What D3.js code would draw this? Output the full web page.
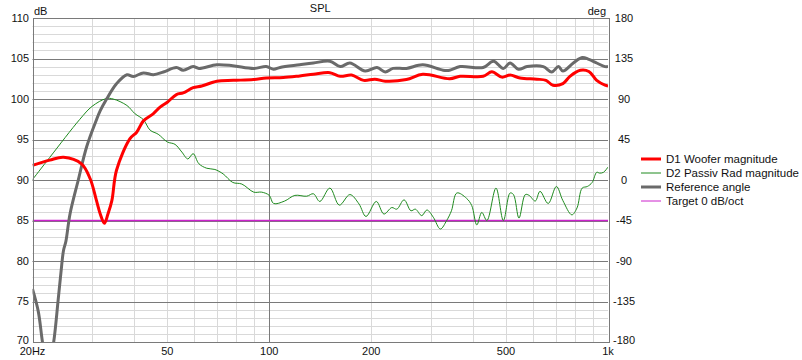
<!DOCTYPE html>
<html>
<head>
<meta charset="utf-8">
<script src="https://cdn.jsdelivr.net/npm/d3@7"></script>
<style>
  body { margin: 0; background: #fff; }
  svg { display: block; font-family: "Liberation Sans", Arial, sans-serif; font-size: 11px; }
</style>
</head>
<body>
<div id="chart"></div>
<script>
// frequency ticks
const freqTicks = [20, 50, 100, 200, 500, 1000];
const freqLabels = ["20Hz", "50", "100", "200", "500", "1k"];
const dbTicks = [70, 75, 80, 85, 90, 95, 100, 105, 110];
const degTicks = [-180, -135, -90, -45, 0, 45, 90, 135, 180];

// D1 Woofer magnitude (Hz, dB)
const wooferFreq = [20, 22.5, 24.7, 27.9, 29.6, 30.9, 31.7, 32.6, 33.4, 34.3, 35.4, 38.8, 40.6, 42.5, 45.5, 47.6, 50, 53.2, 55.7, 59.6, 63.2, 70, 78.3, 89.8, 98, 110, 123, 135, 151, 162, 175, 190, 205, 220, 254, 284, 341, 366, 428, 454, 486, 514, 550, 616, 656, 688, 736, 772, 829, 878, 926, 980, 1000];
const wooferDb = [91.8, 92.45, 92.8, 92.0, 90.15, 87.45, 85.8, 84.65, 85.8, 87.45, 91.2, 95.1, 95.9, 97.3, 98.2, 99.0, 99.6, 100.55, 100.75, 101.4, 101.6, 102.2, 102.3, 102.4, 102.6, 102.65, 102.85, 103.05, 103.25, 102.8, 102.95, 102.3, 102.45, 102.2, 102.4, 103.05, 102.5, 102.8, 102.8, 103.35, 102.7, 102.95, 102.6, 102.45, 102.3, 101.7, 101.9, 102.8, 103.55, 103.4, 102.3, 101.7, 101.6];

// D2 Passiv Rad magnitude (Hz, dB)
const passiveFreq = [20, 22.5, 27.6, 30, 33, 34.6, 38, 40.1, 42.5, 44.5, 47, 50, 52.7, 55.2, 57.5, 59.6, 62, 65.4, 69.1, 73.1, 78, 83, 90, 95, 100, 103, 111, 119, 129, 135, 141, 151, 161, 173, 184, 193, 207, 218, 230, 238, 250, 262, 270, 282, 292, 305, 320, 334, 345, 358, 382, 396, 410, 424, 439, 467, 491, 514, 526, 546, 570, 585, 610, 630, 666, 704, 736, 782, 810, 839, 869, 898, 926, 945, 970, 1000];
const passiveDb = [90.05, 92.8, 97.5, 99.1, 100.05, 100.0, 99.2, 98.2, 97.45, 96.15, 95.65, 94.7, 94.4, 93.45, 92.6, 93.25, 92.0, 91.45, 91.3, 90.75, 89.7, 89.5, 88.5, 88.5, 88.1, 87.1, 87.4, 88.1, 88.0, 88.3, 87.35, 89.0, 86.9, 88.2, 87.05, 85.5, 87.35, 85.8, 86.6, 86.4, 87.55, 86.2, 86.4, 85.6, 86.3, 85.4, 83.95, 85.0, 86.2, 88.4, 87.75, 86.85, 84.45, 86.0, 85.0, 89.0, 85.0, 88.4, 88.2, 85.3, 88.2, 88.1, 87.4, 88.6, 87.1, 89.2, 87.45, 85.7, 86.55, 89.0, 89.2, 89.7, 90.95, 90.85, 90.95, 91.6];

// Reference angle (Hz, deg)
const refFreq = [20, 20.8, 21.4, 22.2, 23.1, 23.8, 24.4, 24.7, 25.1, 25.8, 27.3, 28.9, 30.9, 31.7, 33.1, 35.4, 38, 39.7, 42.5, 45.5, 48.7, 53.2, 55.7, 59.6, 62, 70, 78, 90, 98, 103, 107.6, 123, 135, 151, 162, 173, 192, 208, 220, 232, 254, 284, 326, 341, 366, 428, 459, 491, 514, 544, 577, 644, 682, 714, 736, 790, 839, 878, 926, 980, 1000];
const refDeg = [-121, -146, -180, -216, -180, -134, -94, -78, -68, -38, 0, 37, 67, 77, 90, 107, 117, 115, 119, 117, 120, 125, 122, 126, 124, 128, 127, 124, 126, 123, 125, 128, 130, 132, 126, 130, 121, 125, 120, 124, 124, 128, 122, 122, 126, 125, 132, 124, 130, 123, 126, 126, 120, 126, 121, 130, 136, 134, 130, 126, 126];

// Target 0 dB/oct
const targetFreq = [20, 1000];
const targetDb = [85, 85];

const legendItems = ["D1 Woofer magnitude", "D2 Passiv Rad magnitude", "Reference angle", "Target 0 dB/oct"];
const legendColors = ["#ff0000", "#1f8a1f", "#6a6a6a", "#cc22cc"];
const legendWidths = [3, 1, 3, 1];

const W = 802, H = 360;
const plotLeft = 32.5, plotRight = 608, plotTop = 18, plotBottom = 342;

const svg = d3.select("#chart").append("svg")
    .attr("width", W)
    .attr("height", H);

const x = d3.scaleLog().domain([20, 1000]).range([plotLeft, plotRight]);
const yDb = d3.scaleLinear().domain([70, 110]).range([plotBottom, plotTop]);
const yDeg = d3.scaleLinear().domain([-180, 180]).range([plotBottom, plotTop]);

const px = v => Math.round(v) + 0.5;

// minor grid
const minorF = d3.range(30, 100, 10).concat(d3.range(200, 1000, 100));
svg.append("g").selectAll("line")
    .data(minorF)
    .enter().append("line")
    .attr("x1", d => px(x(d))).attr("x2", d => px(x(d)))
    .attr("y1", plotTop).attr("y2", plotBottom)
    .attr("stroke", "#d9d9d9");

const minorDb = d3.range(71, 110).filter(d => d % 5 !== 0);
svg.append("g").selectAll("line")
    .data(minorDb)
    .enter().append("line")
    .attr("x1", plotLeft).attr("x2", plotRight)
    .attr("y1", d => px(yDb(d))).attr("y2", d => px(yDb(d)))
    .attr("stroke", "#d9d9d9");

// major grid
svg.append("g").selectAll("line")
    .data(dbTicks.slice(1, -1))
    .enter().append("line")
    .attr("x1", plotLeft).attr("x2", plotRight)
    .attr("y1", d => px(yDb(d))).attr("y2", d => px(yDb(d)))
    .attr("stroke", "#7a7a7a");

svg.append("line")
    .attr("x1", px(x(100))).attr("x2", px(x(100)))
    .attr("y1", plotTop).attr("y2", plotBottom)
    .attr("stroke", "#7a7a7a");

// curves
svg.append("clipPath").attr("id", "plotClip")
    .append("rect")
    .attr("x", plotLeft).attr("y", plotTop)
    .attr("width", plotRight - plotLeft).attr("height", plotBottom - plotTop);

const plot = svg.append("g").attr("clip-path", "url(#plotClip)");

function drawCurve(freqs, vals, yScale, color, width) {
    const pts = freqs.map((f, i) => [x(f), yScale(vals[i])]);
    plot.append("path")
        .attr("d", d3.line().curve(d3.curveCatmullRom.alpha(0.5))(pts))
        .attr("fill", "none")
        .attr("stroke", color)
        .attr("stroke-width", width)
        .attr("stroke-linejoin", "round");
}

drawCurve(targetFreq, targetDb, yDb, legendColors[3], 1.5);
drawCurve(passiveFreq, passiveDb, yDb, legendColors[1], 1);
drawCurve(refFreq, refDeg, yDeg, legendColors[2], 3);
drawCurve(wooferFreq, wooferDb, yDb, legendColors[0], 3);

// border
svg.append("rect")
    .attr("x", px(plotLeft)).attr("y", px(plotTop))
    .attr("width", Math.round(plotRight - plotLeft)).attr("height", Math.round(plotBottom - plotTop))
    .attr("fill", "none")
    .attr("stroke", "#7a7a7a");

// axis labels
svg.append("g").selectAll("text")
    .data(dbTicks)
    .enter().append("text")
    .attr("x", 29)
    .attr("y", d => yDb(d) + (d === 70 ? 2 : 3.5))
    .attr("text-anchor", "end")
    .attr("fill", "#111")
    .text(d => d);

svg.append("g").selectAll("text")
    .data(degTicks)
    .enter().append("text")
    .attr("x", 624)
    .attr("y", d => yDeg(d) + (d === -180 ? 2 : 3.5))
    .attr("text-anchor", "middle")
    .attr("fill", "#111")
    .text(d => d);

svg.append("g").selectAll("text")
    .data(freqTicks)
    .enter().append("text")
    .attr("x", d => x(d))
    .attr("y", 355)
    .attr("text-anchor", "middle")
    .attr("fill", "#111")
    .text((d, i) => freqLabels[i]);

svg.append("text").attr("x", 34).attr("y", 15).attr("fill", "#111").text("dB");
svg.append("text").attr("x", (plotLeft + plotRight) / 2).attr("y", 11.5).attr("text-anchor", "middle").attr("fill", "#111").text("SPL");
svg.append("text").attr("x", 606).attr("y", 15).attr("text-anchor", "end").attr("fill", "#111").text("deg");

// legend
const legend = svg.append("g").attr("transform", "translate(641, 159)");
legendItems.forEach((name, i) => {
    const row = legend.append("g").attr("transform", `translate(0, ${i * 14})`);
    row.append("line")
        .attr("x1", 0).attr("x2", 20)
        .attr("y1", 0).attr("y2", 0)
        .attr("stroke", legendColors[i])
        .attr("stroke-width", legendWidths[i]);
    row.append("text")
        .attr("x", 25)
        .attr("y", 4)
        .attr("fill", "#111")
        .style("font-size", "11.5px")
        .text(name);
});
</script>
</body>
</html>
